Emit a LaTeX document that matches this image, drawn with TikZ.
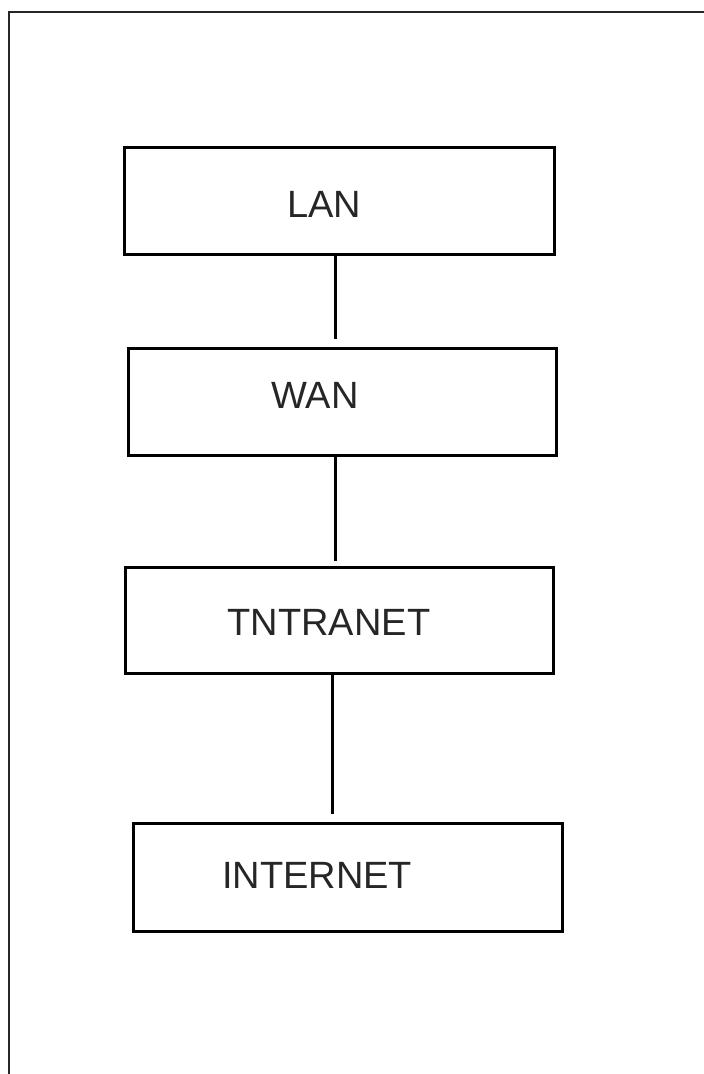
\documentclass[tikz,border=0pt]{standalone}
\usepackage{fontspec}
\setmainfont{Liberation Sans}
\begin{document}
\begin{tikzpicture}[x=1pt,y=-1pt,
  box/.style={draw=black, line width=3pt, rectangle, inner sep=0pt},
  lbl/.style={font=\fontsize{38}{42}\selectfont, text=black!85, inner sep=0pt},
  link/.style={draw=black, line width=3pt}]
\useasboundingbox (0,0) rectangle (704,1074);
\draw[line width=2.6pt, black!85] (704,12) -- (9,12) -- (9,1074);
\node[box, minimum width=430pt, minimum height=107pt] (lan) at (339,200.5) {};
\node[box, minimum width=428pt, minimum height=107pt] (wan) at (342,401.5) {};
\node[box, minimum width=428pt, minimum height=106pt] (tnt) at (339,620) {};
\node[box, minimum width=429pt, minimum height=108pt] (inet) at (347.5,877) {};
\node[lbl] (lanT) at (324,204) {LAN};
\node[lbl] (wanT) at (315,395) {WAN};
\node[lbl] (tntT) at (329,622) {TNTRANET};
\node[lbl] (inetT) at (317,875) {INTERNET};
\draw[link, shorten >=8pt] ([xshift=-4pt]lan.south) -- ([xshift=-7pt]wan.north);
\draw[link, shorten >=5pt] ([xshift=-7pt]wan.south) -- ([xshift=-4pt]tnt.north);
\draw[link, shorten >=8pt] ([xshift=-7pt]tnt.south) -- ([xshift=-15.5pt]inet.north);
\end{tikzpicture}
\end{document}
